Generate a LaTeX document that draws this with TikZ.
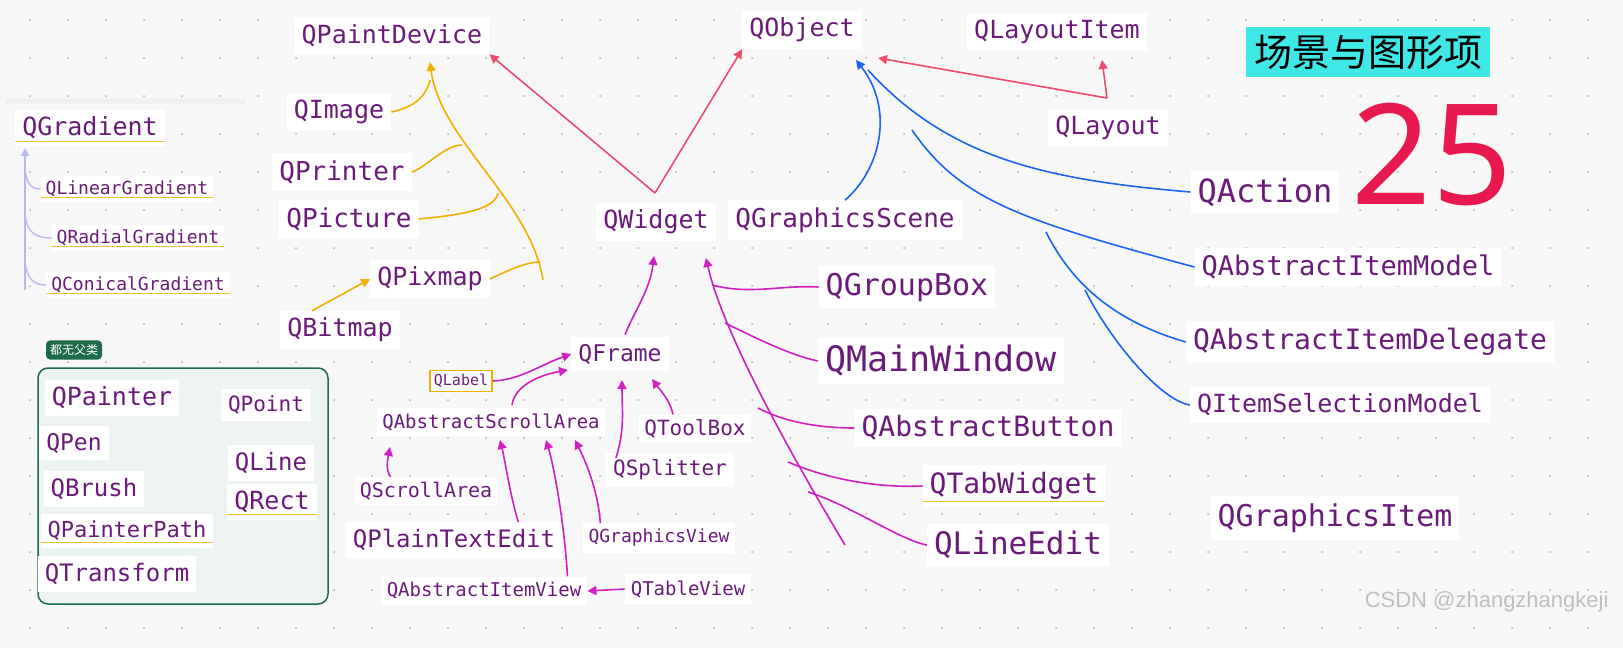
\documentclass[tikz,border=0pt]{standalone}
\usepackage{fontspec}
\setmonofont{DejaVu Sans Mono}
\newfontfamily\cjk{Noto Sans CJK SC}
\newfontfamily\numf{Noto Sans}
\newfontfamily\wmf{Liberation Sans}
\usetikzlibrary{arrows.meta}
\definecolor{txt}{HTML}{6A1B7A}
\definecolor{org}{HTML}{F0B000}
\definecolor{rd}{HTML}{F04A6E}
\definecolor{bl}{HTML}{1A64F0}
\definecolor{mg}{HTML}{D020C0}
\definecolor{lav}{HTML}{B8B8F0}
\definecolor{gr}{HTML}{1D6B4A}
\definecolor{cy}{HTML}{40E8E8}
\definecolor{num}{HTML}{E8194E}
\newcommand{\fsz}[1]{\fontsize{#1}{#1}\selectfont}
\tikzset{
 cls/.style={fill=white,text=txt,font=\ttfamily\fsz{#1},inner sep=7pt},
 cls/.default=25,
 ul/.style={path picture={\draw[org!80,line width=1pt] ([yshift=5pt]path picture bounding box.south west)--([yshift=5pt]path picture bounding box.south east);}},
 ao/.style={org,line width=1.6pt,-{Triangle[length=9pt,width=9pt]}},
 lo/.style={org,line width=1.6pt},
 ar/.style={rd,line width=1.6pt,-{Triangle[length=9pt,width=9pt]}},
 ab/.style={bl,line width=1.6pt,-{Triangle[length=9pt,width=9pt]}},
 lb/.style={bl,line width=1.6pt},
 am/.style={mg,line width=1.6pt,-{Triangle[length=9pt,width=9pt]}},
 lm/.style={mg,line width=1.6pt},
 al/.style={lav,line width=1.4pt,-{Triangle[length=8pt,width=8pt]}},
 ll/.style={lav,line width=1.4pt},
}
\begin{document}
\begin{tikzpicture}[x=1pt,y=-1pt]
\useasboundingbox (0,0) rectangle (1623,648);
\fill[white!97!black] (0,0) rectangle (1623,648);
\foreach \i in {0,...,42}{\foreach \j in {0,...,16}{\fill[black!30] (30+38*\i,20+38*\j) circle (1pt);}}
% green box
\draw[gr,line width=1.5pt,fill=gr!8,rounded corners=10pt] (38,368) rectangle (328,604);
\node[fill=gr,text=white,font=\cjk\fsz{12},rounded corners=4pt,inner sep=4pt] (tag) at (74,350) {都无父类};
% nodes
\node[cls] (pd) at (392,36) {QPaintDevice};
\node[cls] (obj) at (802,30) {QObject};
\node[cls] (li) at (1057,32) {QLayoutItem};
\node[fill=cy,font=\cjk\fsz{38},inner sep=8pt] (title) at (1368,52) {场景与图形项};
\node[text=num,font=\numf\fsz{140},inner sep=0pt] (num) at (1432,155) {25};
\node[cls] (img) at (339,112) {QImage};
\node[cls] (lay) at (1108,128) {QLayout};
\node[cls,ul] (grad) at (90,128) {QGradient};
\fill[black!6] (5,98) rectangle (245,104);
\node[cls=18,ul,inner sep=5pt] (lg) at (127,189) {QLinearGradient};
\node[cls=18,ul,inner sep=5pt] (rg) at (138,238) {QRadialGradient};
\node[cls=18,ul,inner sep=5pt] (cg) at (138,285) {QConicalGradient};
\node[cls=26] (pr) at (342,172) {QPrinter};
\node[cls=26] (pic) at (349,219) {QPicture};
\node[cls] (w) at (656,222) {QWidget};
\node[cls=26] (gs) at (845,220) {QGraphicsScene};
\node[cls=32] (act) at (1265,192) {QAction};
\node[cls] (pix) at (430,279) {QPixmap};
\node[cls] (bm) at (340,330) {QBitmap};
\node[cls=30] (gb) at (907,287) {QGroupBox};
\node[cls=27] (aim) at (1348,267) {QAbstractItemModel};
\node[cls=28] (aid) at (1370,342) {QAbstractItemDelegate};
\node[cls=25] (ism) at (1340,405) {QItemSelectionModel};
\node[cls=35] (mw) at (941,361) {QMainWindow};
\node[cls=23] (fr) at (620,354) {QFrame};
\node[cls=15,draw=org,line width=1.5pt,inner sep=4pt] (lab) at (461,381) {QLabel};
\node[cls=19,inner sep=5pt] (asa) at (491,422) {QAbstractScrollArea};
\node[cls=21,inner sep=5pt] (tb) at (695,429) {QToolBox};
\node[cls=28] (ab) at (988,428) {QAbstractButton};
\node[cls=21] (sp) at (670,470) {QSplitter};
\node[cls=20,inner sep=5pt] (sa) at (426,491) {QScrollArea};
\node[cls=28,ul] (tw) at (1014,486) {QTabWidget};
\node[cls=24] (pte) at (454,540) {QPlainTextEdit};
\node[cls=18,inner sep=6pt] (gv) at (659,538) {QGraphicsView};
\node[cls=31] (le) at (1018,545) {QLineEdit};
\node[cls=19,inner sep=6pt] (aiv) at (484,591) {QAbstractItemView};
\node[cls=19,inner sep=6pt] (tv) at (688,589) {QTableView};
\node[cls=30] (gi) at (1335,518) {QGraphicsItem};
\node[cls=25] (pa) at (112,398) {QPainter};
\node[cls=23] (pen) at (74,443) {QPen};
\node[cls=24] (br) at (94,489) {QBrush};
\node[cls=22,ul] (pp) at (127,531) {QPainterPath};
\node[cls=24] (tr) at (117,574) {QTransform};
\node[cls=21] (pt) at (266,405) {QPoint};
\node[cls=24] (ln) at (271,463) {QLine};
\node[cls=25,ul] (rc) at (272,502) {QRect};
\node[text=black!25,font=\wmf\fsz{22},anchor=east] (wm) at (1612,602) {CSDN @zhangzhangkeji};
% orange
\coordinate (pdt) at (430,62);
\coordinate (ob) at (543,280);
\draw[ao] (ob) .. controls (530,200) and (440,140) .. (pdt);
\draw[lo] (img.east) .. controls (410,108) and (425,100) .. (430,80);
\draw[lo] (pr.east) .. controls (425,168) and (445,145) .. (462,145);
\draw[lo] (pic.east) .. controls (460,215) and (495,210) .. (498,193);
\draw[lo] (pix.east) .. controls (505,272) and (525,262) .. (540,262);
\draw[ao] (bm.north west)++(32,0) -- (pix.west);
% red
\coordinate (wt) at (655,193);
\draw[ar] (wt) -- (pd.south east);
\draw[ar] (wt) -- (obj.south west);
\coordinate (ly) at (1107,98);
\draw[ar] (ly) -- (1102,60);
\draw[ar] (ly) -- (878,58);
% blue
\coordinate (ot) at (856,60);
\draw[ab] (gs.north) .. controls (880,170) and (895,110) .. (ot);
\draw[lb] (act.west) .. controls (1050,180) and (950,160) .. (868,70);
\draw[lb] (aim.west) .. controls (1020,220) and (960,200) .. (912,130);
\draw[lb] (aid.west) .. controls (1110,320) and (1070,280) .. (1046,232);
\draw[lb] (ism.west) .. controls (1160,400) and (1110,340) .. (1085,290);
% magenta
\coordinate (wa) at (706,258);
\draw[am] (845,545) .. controls (770,420) and (720,320) .. (wa);
\draw[lm] (712,285) .. controls (750,295) and (780,285) .. (gb.west);
\draw[lm] (725,323) .. controls (760,340) and (790,355) .. (mw.west);
\draw[lm] (758,408) .. controls (790,425) and (830,428) .. (ab.west);
\draw[lm] (788,462) .. controls (830,480) and (880,488) .. (tw.west);
\draw[lm] (808,492) .. controls (850,505) and (900,540) .. (le.west);
\draw[am] (fr.north)++(5,-2) .. controls (635,310) and (650,290) .. (654,256);
\draw[am] (lab.east) .. controls (520,380) and (540,365) .. (fr.west);
\draw[am] (512,405) .. controls (515,385) and (540,375) .. (568,370);
\draw[am] (tb.north)++(-22,0) .. controls (670,400) and (660,390) .. (652,379);
\draw[am] (sp.west)++(10,-12) .. controls (625,430) and (622,410) .. (622,380);
\draw[am] (sa.north west)++(36,0) .. controls (385,470) and (388,458) .. (390,447);
\draw[am] (pte.north east)++(-44,0) .. controls (510,495) and (505,460) .. (500,440);
\draw[am] (gv.north west)++(18,0) .. controls (598,490) and (585,460) .. (575,440);
\draw[am] (aiv.north east)++(-20,0) .. controls (565,530) and (555,470) .. (546,440);
\draw[am] (tv.west) -- (aiv.east);
% lavender
\draw[al] (25,290) -- (25,148);
\draw[ll] (25,170) .. controls (27,185) and (32,189) .. (lg.west);
\draw[ll] (25,215) .. controls (27,232) and (35,238) .. (rg.west);
\draw[ll] (25,262) .. controls (27,280) and (35,285) .. (cg.west);
\end{tikzpicture}
\end{document}
